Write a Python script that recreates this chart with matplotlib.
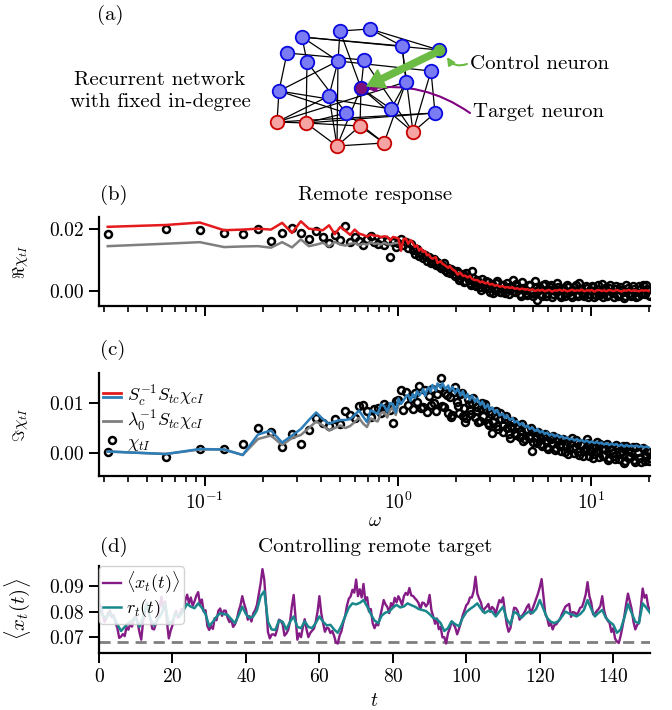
import numpy as np
import matplotlib
matplotlib.use("Agg")
import matplotlib.pyplot as plt
from matplotlib.lines import Line2D
from matplotlib.legend_handler import HandlerBase
from matplotlib.ticker import FormatStrFormatter, MultipleLocator

plt.rcParams['font.family'] = 'cmr10'
plt.rcParams['mathtext.fontset'] = 'cm'
plt.rcParams['axes.formatter.use_mathtext'] = True

# ---------------- data ----------------
# (a) network sketch: node positions (drawing units) and links
node_x = [302, 340, 370, 402, 287, 307, 338, 364, 431, 406, 279, 329, 346, 391, 435,
          439, 361, 277, 306, 360, 413, 337, 384]
node_y = [37, 31, 29, 46, 53, 62, 61, 60, 71, 82, 91, 96, 113, 109, 113,
          50, 88, 122, 123, 126, 132, 146, 143]
node_kind = ['exc'] * 15 + ['control', 'target'] + ['inh'] * 6
edges = [(1, 2), (0, 3), (0, 15), (2, 15), (2, 3), (0, 6), (4, 10), (5, 18), (1, 6),
         (1, 16), (6, 21), (6, 11), (7, 16), (6, 8), (10, 6), (10, 12), (10, 17),
         (10, 13), (17, 11), (17, 9), (17, 14), (18, 19), (18, 14), (18, 21), (17, 18),
         (16, 19), (16, 21), (16, 13), (16, 20), (8, 20), (8, 14), (9, 13), (9, 22),
         (21, 22), (19, 21), (19, 22), (20, 14), (3, 9), (3, 20), (5, 12), (11, 21),
         (12, 22), (7, 20), (12, 18), (0, 5), (4, 7)]

# (b),(c) frequency index k, omega = 2 pi k / T
T_win = 200.0
k_idx = list(range(1, 49)) + [
    50, 51, 53, 54, 56, 58, 59, 61, 63, 65, 67, 69, 71, 73, 75, 77, 80, 82, 85, 87,
    90, 93, 95, 98, 101, 104, 107, 111, 114, 117, 121, 125, 128, 132, 136, 140, 145, 149, 153, 158,
    163, 168, 173, 178, 183, 189, 194, 200, 206, 212, 219, 225, 232, 239, 246, 254, 261, 269, 277, 285,
    294, 303, 312, 321, 331, 341, 351, 361, 372, 383, 395, 407, 419, 431, 444, 458, 471, 485, 500, 515,
    531, 547, 563, 580, 597, 615, 633]
# extra frequencies where only the measured response is shown
k_extra = [49, 52, 55, 57, 60, 62, 64, 66, 68, 70, 72, 74, 76, 78, 81, 83, 86, 88, 91, 94,
           96, 99, 102, 105, 109, 112, 115, 119, 123, 126, 130, 134, 138, 142, 147, 151, 155, 160, 165, 170,
           175, 180, 186, 191, 197, 203, 209, 215, 222, 228, 235, 242, 250, 257, 265, 273, 281, 289, 298, 307,
           316, 326, 336, 346, 356, 366, 377, 389, 401, 413, 425, 437, 451, 464, 478, 492, 507, 523, 539, 555,
           571, 588, 606, 624, 640]

# values in units of 1e-3
re_chi = [18.4, 20.2, 19.7, 18.8, 18.4, 20.2, 16.1, 18.8, 20.3, 18.8,
          16.7, 19.4, 17.6, 15.4, 18.0, 16.5, 21.0, 15.9, 17.6, 16.2,
          14.8, 16.9, 17.7, 16.0, 15.2, 16.6, 15.0, 16.3, 11.1, 15.7,
          14.2, 15.5, 16.8, 14.9, 15.8, 14.0, 15.2, 13.1, 12.0, 13.5,
          11.2, 12.4, 10.6, 11.5, 9.8, 10.9, 8.9, 9.7,
          8.2, 9.3, 7.4, 8.3, 6.6, 7.5, 5.6, 6.8, 4.9, 5.9,
          4.0, 5.3, 3.1, 4.5, 2.5, 6.5, 2.0, 3.6, 1.2, 3.8,
          0.8, 2.9, -0.4, 2.2, 0.2, 3.3, -0.6, 1.7, -0.9, 2.6,
          0.1, 3.4, -0.5, 1.4, -1.0, 2.8, 0.3, -1.4, 1.9, -0.7,
          3.0, -3.2, 0.9, -1.6, 2.2, -0.8, 1.2, -2.0, 0.6, 2.4,
          -1.3, 0.2, -1.9, 1.8, -0.6, -2.0, 1.1, -1.2, 2.5, -0.3,
          -1.8, 0.9, -1.1, 1.6, -2.2, 0.4, -1.5, 2.3, -0.9, -1.9,
          1.0, -0.5, -2.1, 1.5, -1.2, 0.3, -2.3, 1.8, -0.8, -1.6,
          0.7, -2.0, 1.4, -1.1, -0.4, 1.9, -1.4]
re_chi_extra = [10.2, 7.9, 9.0, 6.1, 7.0, 5.3, 6.4, 3.6, 4.7, 2.8,
                5.6, 3.4, 1.9, 4.2, 1.5, 2.6, 0.3, 2.0, 3.1, 0.9,
                1.8, -0.8, 2.4, 0.7, -0.3, 2.0, 0.4, -1.2, 1.6, -0.2,
                2.2, 0.5, -1.6, 1.0, -0.9, 2.0, -0.3, -1.8, 1.3, 0.2,
                -1.1, 1.7, -1.7, 0.5, 2.0, -1.2, -0.2, 1.3, -2.1, 0.9,
                -0.7, 1.2, -1.5, 0.1, 1.9, -1.9, 0.6, -1.0, 1.4, -2.0,
                0.2, 1.1, -1.3, 1.8, -0.6, -2.1, 0.8, -1.4, 2.0, -0.9,
                0.5, -1.7, 1.2, -0.4, -1.8, 0.9, -1.3, 1.6, -0.6, -1.9,
                0.4, 1.7, -1.0, 0.6, -1.7]
re_full = [20.8, 21.4, 22.2, 19.7, 19.9, 20.2, 19.9, 22.1, 18.8, 22.6,
           20.2, 19.9, 19.7, 21.3, 18.4, 20.8, 19.5, 18.2, 19.9, 18.6,
           18.2, 17.6, 18.3, 17.9, 17.9, 17.4, 17.7, 17.6, 16.4, 17.5,
           17.3, 17.0, 13.0, 16.8, 17.0, 15.2, 16.5, 15.6, 14.2, 14.8,
           13.0, 13.8, 12.6, 12.9, 11.5, 11.8, 10.8, 10.4,
           10.9, 9.0, 9.6, 8.8, 8.2, 7.4, 8.0, 6.9, 6.4, 5.2,
           5.9, 4.8, 4.9, 4.3, 4.8, 3.8, 3.4, 3.5, 2.7, 3.0,
           2.4, 2.6, 2.0, 2.2, 1.6, 1.8, 1.3, 1.5, 1.0, 1.2,
           0.9, 1.1, 0.6, 0.8, 0.4, 0.7, 0.3, 0.5, 0.1, 0.4,
           -0.1, 0.2, 0.0, 0.3, -0.2, 0.1, 0.2, -0.3, 0.1, 0.0,
           0.3, -0.1, 0.2, -0.2, 0.0, 0.3, -0.1, 0.1, 0.0, 0.3,
           -0.2, 0.1, 0.0, 0.2, -0.3, 0.1, 0.2, -0.1, 0.1, -0.2,
           0.2, 0.0, -0.1, 0.2, 0.0, -0.3, 0.1, 0.0, 0.2, -0.1,
           0.1, 0.0, -0.2, 0.1, 0.0, 0.1, -0.1]
re_approx = [14.5, 15.3, 15.8, 14.2, 14.4, 14.5, 14.0, 15.8, 14.1, 16.7,
             14.5, 15.0, 15.6, 14.4, 15.9, 15.0, 14.7, 15.2, 15.6, 14.8,
             15.3, 15.0, 15.8, 15.2, 15.4, 15.0, 15.6, 15.2, 15.0, 15.4,
             15.5, 15.6]

im_chi = [0.2, -0.8, 0.9, 0.8, 1.9, 5.0, 4.3, 1.2, 3.9, 1.9,
          4.6, 7.0, 6.1, 5.4, 6.8, 5.9, 8.5, 7.7, 7.0, 9.5,
          9.7, 8.5, 7.3, 8.8, 9.0, 8.0, 9.9, 9.3, 8.7, 6.0,
          10.4, 10.7, 12.6, 8.6, 12.3, 9.7, 11.0, 8.9, 12.0, 10.3,
          13.5, 9.0, 9.3, 12.6, 8.2, 11.4, 9.6, 12.8,
          8.5, 11.9, 15.1, 9.4, 12.1, 8.0, 11.2, 7.7, 13.3, 9.5,
          11.8, 7.4, 6.3, 10.9, 8.6, 10.1, 7.2, 9.3, 6.5, 10.0,
          9.8, 6.0, 8.4, 4.0, 7.6, 5.5, 8.1, 4.3, 6.9, 5.0,
          3.1, 6.3, 4.1, 5.7, 3.2, 5.9, 2.8, 4.9, 3.0, 0.5,
          4.2, 2.0, 3.6, 1.5, 3.9, 1.2, 3.0, 2.0, 0.6, 3.1,
          1.4, 2.6, 0.2, 2.5, 0.9, 3.0, 0.0, 2.0, -0.4, 1.6,
          0.4, 2.8, -0.6, 1.2, -0.1, 2.2, -0.8, 0.9, -0.3, 1.8,
          -1.0, 0.6, -0.5, 1.7, -1.2, 0.4, -1.9, 1.5, -0.7, 0.3,
          -1.4, 1.2, -0.9, -1.7, 0.8, -0.6, -1.5]
im_chi_extra = [10.0, 13.0, 9.2, 11.6, 7.3, 12.2, 10.3, 8.0, 12.0, 9.0,
                7.0, 9.9, 7.9, 11.0, 8.5, 6.2, 9.1, 7.4, 8.9, 5.6,
                7.9, 6.3, 8.4, 4.9, 6.8, 5.6, 7.4, 3.8, 5.4, 6.5,
                3.6, 5.1, 4.4, 2.5, 4.6, 3.5, 5.0, 2.2, 3.4, 4.3,
                1.8, 3.2, 2.4, 0.9, 2.8, 3.5, 1.1, 2.4, 0.4, 2.9,
                1.6, -0.2, 2.1, 1.0, 2.6, 0.3, 1.8, -0.6, 1.0, 2.0,
                0.5, -0.9, 1.5, 0.2, 1.9, -0.5, 0.9, -1.3, 1.3, 0.1,
                -1.1, 1.0, -0.2, 1.4, -1.5, 0.5, -0.6, 1.2, -1.8, 0.2,
                -0.9, 1.0, -1.6, 0.4, -1.0]
im_full = [0.3, -0.2, 0.8, 0.7, -0.4, 3.7, 4.5, 2.1, 3.5, 4.8,
           6.6, 8.1, 6.8, 5.8, 6.3, 6.6, 6.6, 6.8, 7.6, 8.5,
           7.3, 6.2, 8.5, 8.2, 7.8, 9.7, 9.4, 8.3, 10.0, 9.8,
           8.1, 10.9, 9.8, 10.5, 11.3, 11.6, 10.4, 11.8, 11.0, 12.4,
           11.5, 12.0, 12.8, 11.4, 12.6, 13.1, 12.2, 13.6,
           12.5, 13.9, 13.0, 14.0, 12.8, 13.5, 12.4, 13.2, 12.0, 12.9,
           11.5, 12.4, 11.0, 11.8, 10.6, 11.5, 10.2, 10.9, 9.6, 10.3,
           9.0, 9.7, 8.6, 9.1, 8.0, 8.6, 7.5, 7.9, 7.0, 7.5,
           6.6, 7.0, 6.1, 6.4, 5.6, 6.0, 5.2, 5.5, 4.8, 5.1,
           4.4, 4.8, 4.1, 4.4, 3.8, 4.1, 3.5, 3.8, 3.3, 3.6,
           3.1, 3.4, 2.9, 3.1, 2.7, 2.9, 2.5, 2.8, 2.4, 2.6,
           2.2, 2.5, 2.1, 2.3, 2.0, 2.2, 1.9, 2.1, 1.7, 2.0,
           1.6, 1.9, 1.6, 1.8, 1.4, 1.7, 1.3, 1.6, 1.3, 1.5,
           1.3, 1.5, 1.2, 1.4, 1.1, 1.3, 1.1]
im_approx = [0.3, -0.2, 0.7, 0.7, -0.4, 2.8, 3.5, 1.6, 3.0, 3.6,
             5.0, 6.3, 5.5, 4.5, 5.0, 5.5, 5.0, 5.4, 6.2, 7.0,
             5.9, 5.2, 6.9, 6.6, 6.3, 8.0, 8.2, 7.1, 8.6, 9.2,
             7.6, 9.6]

# (d) time traces, units of 1e-3 (x_target every 0.5, r_target every 1.0)
x_target = [83.0, 82.1, 78.8, 75.9, 77.5, 79.5, 80.4, 77.7, 78.6, 75.6, 73.5, 69.7, 70.2, 71.2, 70.4, 74.0, 72.9, 75.2, 74.1, 77.4,
            78.3, 75.8, 72.0, 69.0, 76.0, 80.0, 83.5, 79.6, 77.0, 73.3, 73.0, 75.3, 77.9, 82.0, 85.8, 80.5, 84.0, 76.0, 69.5, 72.5,
            74.6, 78.5, 80.3, 77.6, 79.0, 81.0, 80.2, 84.4, 86.6, 83.2, 85.5, 82.2, 84.0, 86.2, 87.6, 82.9, 84.7, 80.0, 80.5, 74.3,
            72.8, 74.4, 73.2, 77.4, 76.6, 80.3, 81.2, 78.3, 80.4, 80.3, 77.6, 75.9, 77.1, 74.0, 75.0, 76.8, 80.1, 82.4, 86.0, 83.1,
            80.8, 76.8, 78.2, 76.1, 79.3, 80.5, 82.6, 86.8, 91.0, 96.6, 92.4, 82.0, 72.0, 69.5, 71.0, 71.1, 70.6, 73.1, 76.8, 76.4,
            75.0, 70.6, 71.4, 72.8, 76.0, 82.0, 86.5, 78.0, 69.0, 71.5, 70.0, 73.9, 77.0, 73.0, 70.0, 71.6, 72.5, 73.3, 76.0, 80.0,
            86.0, 79.5, 75.5, 72.1, 73.7, 73.4, 71.6, 72.4, 70.5, 67.9, 67.5, 70.6, 72.3, 75.7, 78.2, 82.3, 85.0, 85.9, 88.5, 87.4,
            92.5, 86.0, 88.7, 85.5, 90.8, 84.2, 85.6, 80.0, 81.0, 75.5, 73.5, 75.2, 74.6, 77.8, 81.0, 84.5, 82.8, 81.8, 79.4, 83.3,
            82.0, 85.4, 83.6, 86.0, 84.5, 82.5, 86.0, 87.3, 86.5, 89.2, 86.3, 86.1, 85.2, 84.4, 83.3, 80.9, 83.5, 83.3, 82.0, 83.0,
            86.5, 80.5, 78.0, 75.2, 77.3, 73.1, 74.0, 69.9, 70.0, 67.5, 71.5, 73.4, 76.0, 75.1, 73.7, 71.1, 73.2, 75.6, 78.4, 80.5,
            82.5, 83.3, 85.5, 85.5, 88.0, 93.6, 87.0, 85.0, 83.5, 79.9, 81.2, 81.9, 83.0, 79.9, 81.8, 81.1, 79.0, 82.0, 84.5, 83.6,
            85.5, 80.0, 75.0, 72.1, 73.5, 77.5, 81.5, 81.3, 80.1, 76.8, 78.0, 79.0, 80.2, 81.8, 82.8, 79.1, 81.0, 82.9, 85.0, 87.0,
            89.5, 92.7, 86.0, 79.0, 77.5, 74.4, 75.6, 73.0, 74.8, 75.0, 76.2, 77.0, 79.0, 80.5, 82.0, 82.5, 83.0, 77.9, 79.8, 79.6,
            78.8, 79.8, 81.5, 81.8, 84.0, 86.7, 91.5, 86.0, 83.5, 78.9, 79.2, 80.2, 81.0, 82.2, 86.0, 80.5, 77.8, 76.4, 75.5, 72.0,
            73.5, 69.4, 68.3, 67.7, 70.5, 74.0, 78.0, 82.9, 87.0, 84.0, 81.0, 76.0, 73.0, 74.8, 75.5, 81.6, 89.0, 85.4, 86.5, 82.0,
            80.5]
r_target = [81.9, 78.5, 77.5, 79.4, 78.0, 75.0, 72.4, 74.0, 75.5, 76.5,
            77.5, 74.0, 78.0, 83.0, 77.0, 74.5, 77.0, 79.0, 83.0, 75.0,
            76.5, 79.4, 78.1, 80.5, 83.0, 81.9, 81.3, 83.2, 81.5, 79.0,
            74.3, 76.0, 78.0, 79.4, 79.0, 78.7, 77.0, 75.5, 78.5, 81.9,
            79.0, 77.5, 78.1, 80.5, 86.0, 88.0, 76.0, 73.0, 72.8, 76.5,
            76.0, 73.0, 76.0, 78.1, 74.0, 73.5, 76.2, 74.0, 73.5, 75.5,
            78.1, 76.0, 74.6, 74.8, 73.0, 71.7, 74.5, 78.1, 81.5, 83.2,
            82.8, 83.4, 84.5, 82.0, 79.0, 76.5, 75.5, 78.5, 79.6, 80.0,
            81.5, 82.6, 81.6, 82.0, 83.2, 82.5, 81.9, 81.0, 80.6, 80.2,
            79.0, 77.5, 77.0, 75.5, 72.4, 73.5, 76.2, 75.0, 74.3, 77.5,
            79.8, 81.0, 82.0, 83.2, 81.0, 79.4, 80.3, 80.0, 78.1, 80.0,
            81.9, 77.0, 74.9, 80.0, 79.0, 77.5, 79.0, 80.0, 79.4, 81.0,
            84.5, 81.0, 77.5, 76.0, 75.5, 76.2, 78.0, 80.0, 79.2, 78.7,
            78.1, 79.0, 80.6, 84.5, 81.0, 78.1, 79.5, 80.6, 77.5, 76.0,
            74.9, 71.7, 73.0, 77.5, 82.9, 79.5, 76.0, 75.5, 83.2, 81.5,
            79.5]
baseline = 0.068

# ---------------- styling ----------------
c_red = '#e41a1c'
c_blue = '#2d7db8'
c_gray = '#7f7f7f'
c_purple = '#851c85'
c_teal = '#19878c'

W, H = 672, 710
fig = plt.figure(figsize=(W / 100, H / 100), dpi=100)


def px_box(left, top, right, bottom):
    return [left / W, 1 - bottom / H, (right - left) / W, (bottom - top) / H]


class HandlerPair(HandlerBase):
    # two short lines stacked on top of each other
    def create_artists(self, legend, orig_handle, xdescent, ydescent,
                       width, height, fontsize, trans):
        arts = []
        for ln, frac in zip(orig_handle, (0.66, 0.34)):
            y = height * frac - ydescent
            arts.append(Line2D([-xdescent, width - xdescent], [y, y],
                               color=ln.get_color(), lw=ln.get_linewidth(),
                               transform=trans))
        return arts


# ---------------- (a) network ----------------
ax_a = fig.add_axes([0, 1 - 170 / H, 1, 170 / H])
ax_a.set_xlim(0, W)
ax_a.set_ylim(170, 0)
ax_a.axis('off')
for i, j in edges:
    ax_a.plot([node_x[i], node_x[j]], [node_y[i], node_y[j]], color='k', lw=0.9, zorder=1)
face = {'exc': '#7b7cf4', 'inh': '#f6a3a3', 'control': '#66b640', 'target': '#7d0f7d'}
edge = {'exc': '#0a0ae0', 'inh': '#c80000', 'control': '#0a0ae0', 'target': '#0a0ae0'}
for kind in face:
    xs = [x for x, kd in zip(node_x, node_kind) if kd == kind]
    ys = [y for y, kd in zip(node_y, node_kind) if kd == kind]
    ax_a.scatter(xs, ys, s=95, c=face[kind], edgecolors=edge[kind], linewidths=1.3, zorder=3)

ax_a.annotate('', xy=(367, 86), xytext=(437, 52),
              arrowprops=dict(arrowstyle='simple,head_length=0.8,head_width=0.95,tail_width=0.3',
                              mutation_scale=15, color='#6cbb45', shrinkA=0, shrinkB=0), zorder=4)
ax_a.annotate('', xy=(447, 57), xytext=(467, 64),
              arrowprops=dict(arrowstyle='-|>,head_length=0.45,head_width=0.22', color='#6cbb45',
                              lw=1.5, connectionstyle='arc3,rad=-0.4', shrinkA=0, shrinkB=0))
ax_a.annotate('', xy=(367, 89), xytext=(470, 113),
              arrowprops=dict(arrowstyle='-|>,head_length=0.5,head_width=0.25', color='#800080',
                              lw=1.5, connectionstyle='arc3,rad=0.2', shrinkA=0, shrinkB=0), zorder=2)
ax_a.text(97, 15, '(a)', fontsize=15, va='center', ha='left')
ax_a.text(160, 91, 'Recurrent network\nwith fixed in-degree', fontsize=15,
          ha='center', va='center', linespacing=1.3)
ax_a.text(470, 64, 'Control neuron', fontsize=15, va='center', ha='left')
ax_a.text(473, 112, 'Target neuron', fontsize=15, va='center', ha='left')

# ---------------- (b), (c) ----------------
omega = 2 * np.pi * np.array(k_idx) / T_win
omega_extra = 2 * np.pi * np.array(k_extra) / T_win
n_apx = len(re_approx)

ax_b = fig.add_axes(px_box(99, 217, 650, 306))
ax_c = fig.add_axes(px_box(99, 373, 650, 476), sharex=ax_b)
ax_d = fig.add_axes(px_box(99, 566, 650, 653))

circ = dict(ls='none', marker='o', ms=5.0, mfc='none', mec='k', mew=1.8, zorder=2)
ax_b.plot(omega, np.array(re_chi) * 1e-3, **circ)
ax_b.plot(omega_extra, np.array(re_chi_extra) * 1e-3, **circ)
ax_b.plot(omega[:n_apx], np.array(re_approx) * 1e-3, color=c_gray, lw=1.8, zorder=3)
ax_b.plot(omega, np.array(re_full) * 1e-3, color=c_red, lw=1.8, zorder=4)

ax_c.plot(omega, np.array(im_chi) * 1e-3, **circ)
ax_c.plot(omega_extra, np.array(im_chi_extra) * 1e-3, **circ)
ax_c.plot(omega[:n_apx], np.array(im_approx) * 1e-3, color=c_gray, lw=1.8, zorder=3)
ax_c.plot(omega, np.array(im_full) * 1e-3, color=c_blue, lw=1.8, zorder=4)

ax_b.set_xscale('log')
ax_b.set_xlim(0.0283, 20.2)
ax_b.set_ylim(-0.005, 0.024)
ax_c.set_ylim(-0.0046, 0.016)
ax_b.set_yticks([0.0, 0.02])
ax_c.set_yticks([0.0, 0.01])
ax_b.tick_params(labelbottom=False)

h_pair = (Line2D([], [], color=c_red, lw=2), Line2D([], [], color=c_blue, lw=2))
h_gray = Line2D([], [], color=c_gray, lw=2)
h_circ = Line2D([], [], ls='none', marker='o', ms=5.0, mfc='none', mec='k', mew=1.8)
ax_c.legend([h_pair, h_gray, h_circ],
            [r'$S_c^{-1}S_{tc}\chi_{cI}$', r'$\lambda_0^{-1}S_{tc}\chi_{cI}$', r'$\chi_{tI}$'],
            handler_map={tuple: HandlerPair()}, loc='upper left', bbox_to_anchor=(0.0, 0.93),
            frameon=False, fontsize=13, handlelength=1.0, handletextpad=0.35,
            labelspacing=0.0, borderaxespad=0.1, borderpad=0.1)

ax_b.set_ylabel(r'$\Re\chi_{tI}$', fontsize=12)
ax_c.set_ylabel(r'$\Im\chi_{tI}$', fontsize=12)
ax_b.yaxis.set_label_coords(-0.125, 0.5)
ax_c.yaxis.set_label_coords(-0.125, 0.5)
ax_c.set_xlabel(r'$\omega$', fontsize=14)
ax_c.xaxis.set_label_coords(0.5, -0.35)

# ---------------- (d) ----------------
t_x = np.arange(len(x_target)) * 0.5
t_r = np.arange(len(r_target)) * 1.0
ax_d.axhline(baseline, color=c_gray, lw=2, ls=(0, (4, 2.5)), zorder=1)
ax_d.plot(t_x, np.array(x_target) * 1e-3, color=c_purple, lw=1.7, label=r'$\langle x_t(t)\rangle$', zorder=2)
ax_d.plot(t_r, np.array(r_target) * 1e-3, color=c_teal, lw=1.8, label=r'$r_t(t)$', zorder=3)
ax_d.set_xlim(0, 150)
ax_d.set_ylim(0.0638, 0.0978)
ax_d.xaxis.set_major_locator(MultipleLocator(20))
ax_d.set_yticks([0.07, 0.08, 0.09])
ax_d.set_ylabel(r'$\langle x_t(t)\rangle$', fontsize=15)
ax_d.yaxis.set_label_coords(-0.12, 0.5)
ax_d.set_xlabel(r'$t$', fontsize=14)
ax_d.xaxis.set_label_coords(0.5, -0.45)
ax_d.legend(loc='upper left', fontsize=13, handlelength=1.0, handletextpad=0.3,
            labelspacing=0.1, borderaxespad=0.0, borderpad=0.2, framealpha=0.85,
            edgecolor='#cccccc', fancybox=True)

for ax in (ax_b, ax_c, ax_d):
    ax.spines[['top', 'right']].set_visible(False)
    for s in ('left', 'bottom'):
        ax.spines[s].set_linewidth(1.6)
    ax.tick_params(which='major', direction='out', length=7, width=1.4, labelsize=14, pad=4)
    ax.tick_params(which='minor', direction='out', length=4.5, width=1.2)
for ax in (ax_b, ax_c, ax_d):
    ax.yaxis.set_major_formatter(FormatStrFormatter('%.2f'))

# panel labels and titles
fig.text(100 / W, 1 - 195 / H, '(b)', fontsize=15, va='center', ha='left')
fig.text(375 / W, 1 - 195 / H, 'Remote response', fontsize=15, va='center', ha='center')
fig.text(100 / W, 1 - 350 / H, '(c)', fontsize=15, va='center', ha='left')
fig.text(100 / W, 1 - 547 / H, '(d)', fontsize=15, va='center', ha='left')
fig.text(375 / W, 1 - 547 / H, 'Controlling remote target', fontsize=15, va='center', ha='center')

fig.savefig('out.png', dpi=100)
